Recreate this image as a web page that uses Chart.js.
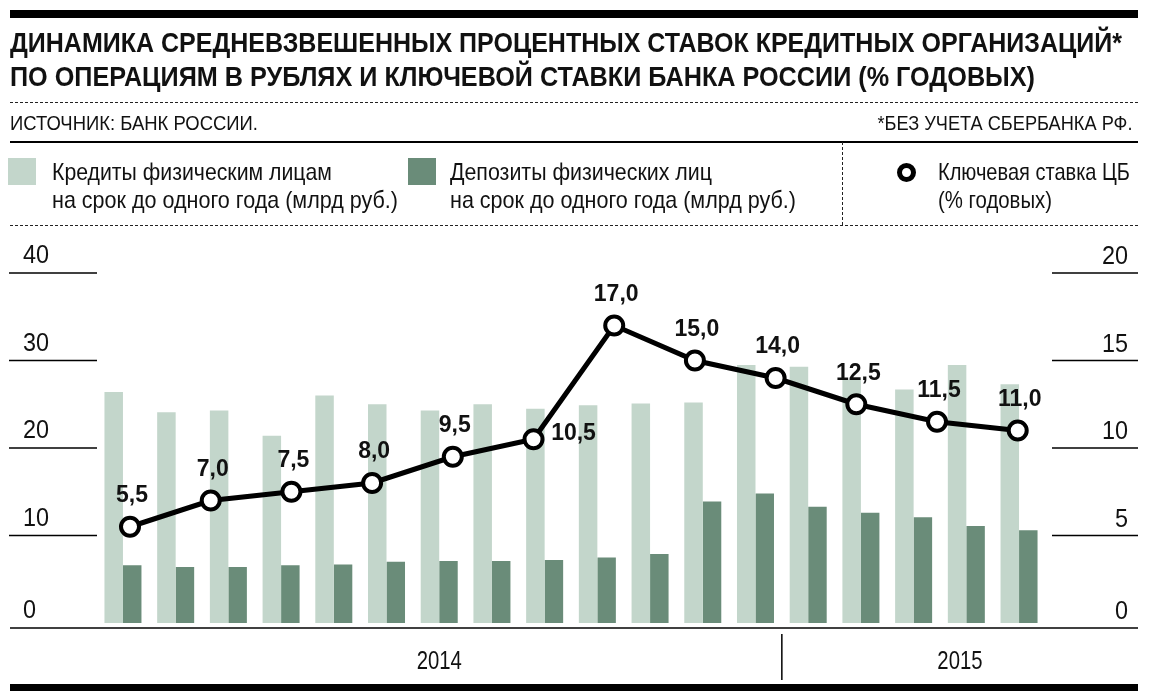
<!DOCTYPE html>
<html><head><meta charset="utf-8">
<script src="https://cdn.jsdelivr.net/npm/chart.js@4"></script>
<style>
html,body{margin:0;padding:0;background:#fff;}
#wrap{position:relative;width:1150px;height:698px;overflow:hidden;font-family:"Liberation Sans",Arial,sans-serif;color:#111;}
canvas{position:absolute;left:0;top:0;}
.t{position:absolute;white-space:nowrap;line-height:1;display:inline-block;}
.hl{position:absolute;left:10px;width:1128px;}
</style></head><body>
<div id="wrap">
<canvas id="c" width="1150" height="698"></canvas>
<canvas id="c2" width="1150" height="698"></canvas>
<div class="hl" style="top:10px;height:8px;background:#000"></div>
<div class="t" data-w="1112" style="left:10px;top:29px;font-size:28px;font-weight:bold">ДИНАМИКА СРЕДНЕВЗВЕШЕННЫХ ПРОЦЕНТНЫХ СТАВОК КРЕДИТНЫХ ОРГАНИЗАЦИЙ*</div>
<div class="t" data-w="1025" style="left:10px;top:63px;font-size:28px;font-weight:bold">ПО ОПЕРАЦИЯМ В РУБЛЯХ И КЛЮЧЕВОЙ СТАВКИ БАНКА РОССИИ (% ГОДОВЫХ)</div>
<div class="hl" style="top:102px;height:0;border-top:1px dashed #222"></div>
<div class="t" data-w="248" style="left:10px;top:111.5px;font-size:21px">ИСТОЧНИК: БАНК РОССИИ.</div>
<div class="t" data-w="255" data-r="1" style="right:18px;top:111.5px;font-size:21px">*БЕЗ УЧЕТА СБЕРБАНКА РФ.</div>
<div class="hl" style="top:141px;height:1.5px;background:#000"></div>

<div style="position:absolute;left:8px;top:158px;width:28px;height:27px;background:#c3d6cb"></div>
<div class="t" data-w="280" style="left:52px;top:159.7px;font-size:24px">Кредиты физическим лицам</div>
<div class="t" data-w="346" style="left:52px;top:187.7px;font-size:24px">на срок до одного года (млрд руб.)</div>

<div style="position:absolute;left:408px;top:158px;width:28px;height:27px;background:#6a8c79"></div>
<div class="t" data-w="262" style="left:450px;top:159.7px;font-size:24px">Депозиты физических лиц</div>
<div class="t" data-w="346" style="left:450px;top:187.7px;font-size:24px">на срок до одного года (млрд руб.)</div>

<div style="position:absolute;left:842px;top:142px;width:0;height:83px;border-left:1px dashed #222"></div>
<div style="position:absolute;left:897px;top:163px;width:9px;height:9px;border:5px solid #000;border-radius:50%;background:#fff"></div>
<div class="t" data-w="192" style="left:938px;top:159.7px;font-size:24px">Ключевая ставка ЦБ</div>
<div class="t" data-w="114" style="left:938px;top:187.7px;font-size:24px">(% годовых)</div>
<div class="hl" style="top:225px;height:0;border-top:1px dashed #222"></div>

<div class="hl" style="top:684px;height:7px;background:#000"></div>
</div>
<script>
// ---- data ----
const categories = ['1','2','3','4','5','6','7','8','9','10','11','12','13','14','15','16','17','18'];
const loans    = [26.4, 24.1, 24.3, 21.4, 26.0, 25.0, 24.3, 25.0, 24.5, 24.9, 25.1, 25.2, 29.5, 29.3, 27.8, 26.7, 29.5, 27.3];
const deposits = [6.6, 6.4, 6.4, 6.6, 6.7, 7.0, 7.1, 7.1, 7.2, 7.5, 7.9, 13.9, 14.8, 13.3, 12.6, 12.1, 11.1, 10.6];
const keyRate  = [5.5, 7.0, 7.5, 8.0, 9.5, 10.5, 17.0, 15.0, 14.0, 12.5, 11.5, 11.0];
const leftTicks  = [0, 10, 20, 30, 40];
const rightTicks = [0, 5, 10, 15, 20];
const years = ['2014', '2015'];
const yearBarCounts = [13, 5];

// fit texts to measured widths
document.querySelectorAll('[data-w]').forEach(el=>{
  const w = el.getBoundingClientRect().width;
  const target = parseFloat(el.dataset.w);
  el.style.transformOrigin = el.dataset.r ? 'right top' : 'left top';
  el.style.transform = 'scaleX(' + (target / w) + ')';
});

const FONT = '"Liberation Sans", Arial, sans-serif';
const PAD = { left: 96.6, right: 104.6, top: 273, bottom: 75 };

function hline(ctx, x1, x2, y){
  ctx.beginPath(); ctx.moveTo(x1, y); ctx.lineTo(x2, y); ctx.stroke();
}
function condText(ctx, s, x, y, align, sx){
  ctx.save();
  ctx.translate(x, y);
  ctx.scale(sx, 1);
  ctx.textAlign = align;
  ctx.fillText(s, 0, 0);
  ctx.restore();
}

const axesPlugin = {
  id: 'axesPlugin',
  beforeDatasetsDraw(chart){
    const {ctx, scales} = chart;
    const y = scales.y, x = scales.x;
    const zeroY = y.getPixelForValue(0);
    const rightMax = rightTicks[rightTicks.length - 1];
    ctx.save();
    ctx.strokeStyle = '#000';
    ctx.fillStyle = '#111';
    ctx.lineWidth = 1.5;
    ctx.textBaseline = 'alphabetic';
    ctx.font = '26px ' + FONT;
    leftTicks.forEach(v=>{
      let py = y.getPixelForValue(v);
      if (v === 0) py = zeroY + 5; else hline(ctx, 9, 97, py);
      condText(ctx, String(v), 23, py - 10, 'left', 0.9);
    });
    rightTicks.forEach(v=>{
      // right axis shares the same pixel range (0..20 over 0..40)
      let py = y.getPixelForValue(v / rightMax * y.max);
      if (v === 0) py = zeroY + 5; else hline(ctx, 1052, 1138, py);
      condText(ctx, String(v), 1128, py - 9, 'right', 0.9);
    });
    hline(ctx, 10, 1138, zeroY + 5);
    let idx = 0;
    const divs = [];
    yearBarCounts.forEach((n, i)=>{
      idx += n;
      if (i < yearBarCounts.length - 1) {
        const dx = (x.getPixelForValue(idx - 1) + x.getPixelForValue(idx)) / 2;
        divs.push(dx);
        ctx.beginPath(); ctx.moveTo(dx, zeroY + 11); ctx.lineTo(dx, zeroY + 57); ctx.stroke();
      }
    });
    const bounds = [chart.chartArea.left, ...divs, 1138];
    ctx.font = '26px ' + FONT;
    years.forEach((yr, i)=>{
      condText(ctx, yr, (bounds[i] + bounds[i+1]) / 2, zeroY + 46, 'center', 0.78);
    });
    ctx.restore();
  }
};

const labelPlugin = {
  id: 'labelPlugin',
  afterDatasetsDraw(chart){
    const {ctx} = chart;
    const meta = chart.getDatasetMeta(0);
    ctx.save();
    ctx.fillStyle = '#111';
    ctx.font = 'bold 23px ' + FONT;
    ctx.textBaseline = 'middle';
    ctx.textAlign = 'center';
    meta.data.forEach((pt, i)=>{
      const s = keyRate[i].toFixed(1).replace('.', ',');
      let dx = 2, dy = -31;
      if (i === 5) { dx = 40; dy = -6; }
      ctx.fillText(s, pt.x + dx, pt.y + dy);
    });
    ctx.restore();
  }
};

// bars
new Chart(document.getElementById('c'), {
  type: 'bar',
  data: {
    labels: categories,
    datasets: [
      { label: 'Кредиты физическим лицам на срок до одного года (млрд руб.)', data: loans,
        backgroundColor: '#c3d6cb', barPercentage: 1.0, categoryPercentage: 0.702 },
      { label: 'Депозиты физических лиц на срок до одного года (млрд руб.)', data: deposits,
        backgroundColor: '#6a8c79', barPercentage: 1.0, categoryPercentage: 0.702 }
    ]
  },
  options: {
    responsive: false, animation: false, devicePixelRatio: 1,
    layout: { padding: PAD },
    plugins: { legend: { display: false }, tooltip: { enabled: false } },
    scales: {
      x: { type: 'category', display: false, offset: true },
      y: { type: 'linear', display: false, min: 0, max: 40 }
    }
  },
  plugins: [axesPlugin]
});

// key rate line (overlaid, same plot area)
new Chart(document.getElementById('c2'), {
  type: 'line',
  data: {
    datasets: [
      { label: 'Ключевая ставка ЦБ (% годовых)',
        data: keyRate.map((v, i)=>({x: i, y: v})),
        borderColor: '#000', borderWidth: 5, tension: 0,
        pointRadius: 9, pointBorderWidth: 4, pointBackgroundColor: '#fff', pointBorderColor: '#000',
        pointHoverRadius: 9 }
    ]
  },
  options: {
    responsive: false, animation: false, devicePixelRatio: 1,
    layout: { padding: PAD },
    plugins: { legend: { display: false }, tooltip: { enabled: false } },
    scales: {
      x: { type: 'linear', display: false, offset: false, min: -0.414, max: 11.343 },
      y: { type: 'linear', display: false, min: 0, max: 20 }
    }
  },
  plugins: [labelPlugin]
});
</script>
</body></html>
